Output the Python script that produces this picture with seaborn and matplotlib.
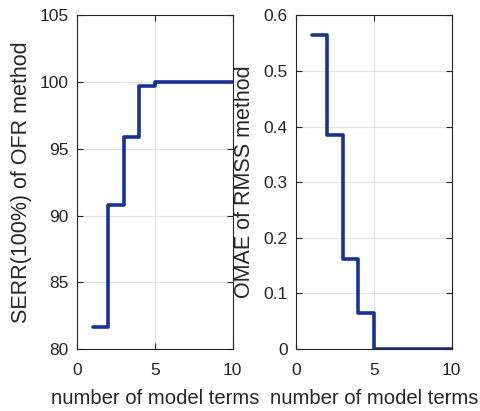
import matplotlib
matplotlib.use("Agg")
import matplotlib.pyplot as plt
import seaborn as sns
import pandas as pd

terms = [1, 2, 3, 4, 5, 6, 7, 8, 9, 10]
serr = [81.65, 90.8, 95.9, 99.7, 100, 100, 100, 100, 100, 100]
omae = [0.565, 0.384, 0.161, 0.065, 0.0, 0.0, 0.0, 0.0, 0.0, 0.0]
xticks = [0, 5, 10]
serr_ticks = [80, 85, 90, 95, 100, 105]
omae_ticks = [0, 0.1, 0.2, 0.3, 0.4, 0.5, 0.6]

sns.set_theme(style="whitegrid")
plt.rcParams['font.family'] = ['Liberation Sans', 'DejaVu Sans']

line_color = "#163199"
text_color = "#262626"

fig = plt.figure(figsize=(4.81, 4.11), dpi=100)
ax1 = fig.add_axes([77.3/481, 1 - 349/411, (232.7-77.3)/481, (349-15.3)/411])
ax2 = fig.add_axes([296.3/481, 1 - 349/411, (451.7-296.3)/481, (349-15.3)/411])

df = pd.DataFrame({"terms": terms, "serr": serr, "omae": omae})

sns.lineplot(data=df, x="terms", y="serr", ax=ax1, color=line_color,
             linewidth=2.6, drawstyle="steps-post")
sns.lineplot(data=df, x="terms", y="omae", ax=ax2, color=line_color,
             linewidth=2.6, drawstyle="steps-post")

for ax, yt, ylim, ylab in [
    (ax1, serr_ticks, (80, 105), "SERR(100%) of OFR method"),
    (ax2, omae_ticks, (0, 0.6), "OMAE of RMSS method"),
]:
    ax.set_xlim(0, 10)
    ax.set_ylim(*ylim)
    ax.set_xticks(xticks)
    ax.set_yticks(yt)
    ax.set_yticklabels([("%g" % v) for v in yt])
    ax.set_xlabel("number of model terms", fontsize=14.6, color=text_color, labelpad=8)
    ax.set_ylabel(ylab, fontsize=15.5, color=text_color, labelpad=6)
    ax.grid(True, color="#e3e3e3", linewidth=0.9)
    ax.set_facecolor("white")
    for s in ax.spines.values():
        s.set_visible(True)
        s.set_color("#262626")
        s.set_linewidth(0.8)
    ax.tick_params(axis="both", direction="in", length=4, width=0.8,
                   top=True, right=True, bottom=True, left=True,
                   labelsize=12.5, colors="#262626", labelcolor=text_color, pad=6)
    ax.tick_params(axis="x", pad=10)

fig.savefig("out.png", dpi=100, facecolor="white")
